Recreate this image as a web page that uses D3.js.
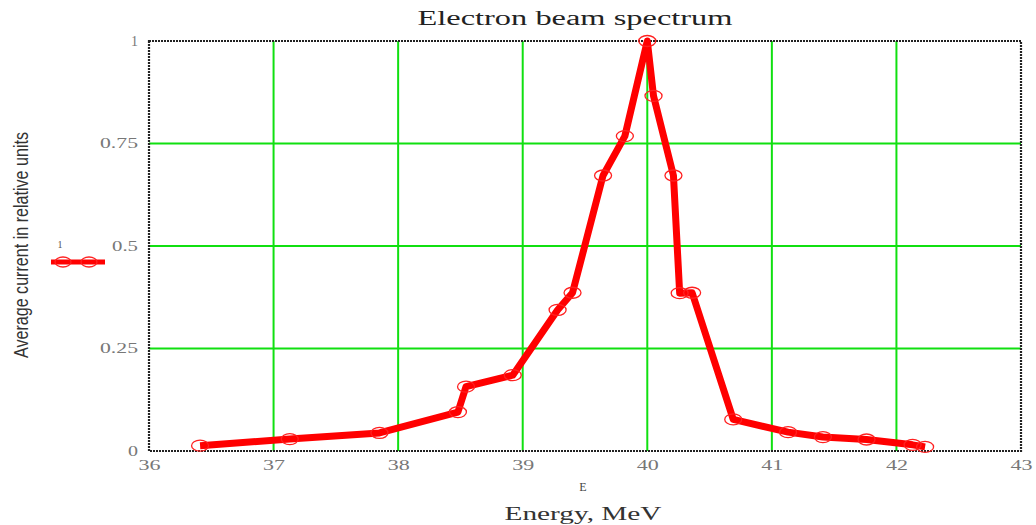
<!DOCTYPE html>
<html><head><meta charset="utf-8">
<script src="https://cdn.jsdelivr.net/npm/d3@7"></script>
<style>body{margin:0;background:#fff;} svg{display:block;}</style>
</head><body>
<svg id="c" width="1036" height="525"></svg>
<script>
const energy = [36.41, 37.13, 37.85, 38.48, 38.545, 38.92, 39.28, 39.40, 39.645, 39.82, 40.0, 40.05, 40.21, 40.26, 40.36, 40.69, 41.13, 41.41, 41.76, 42.13, 42.23];
const current = [0.013, 0.029, 0.044, 0.095, 0.157, 0.185, 0.344, 0.386, 0.672, 0.768, 1.0, 0.866, 0.672, 0.385, 0.386, 0.077, 0.046, 0.034, 0.028, 0.015, 0.01];
const xTicks = [36, 37, 38, 39, 40, 41, 42, 43];
const xTickLabels = ["36", "37", "38", "39", "40", "41", "42", "43"];
const yTicks = [0, 0.25, 0.5, 0.75, 1];
const yTickLabels = ["0", "0.25", "0.5", "0.75", "1"];

const svg = d3.select("#c");
const L = 149, R = 1021, T = 41, B = 451;
const x = d3.scaleLinear().domain([36, 43]).range([L, R]);
const y = d3.scaleLinear().domain([0, 1]).range([B, T]);
const serif = "'Liberation Serif','DejaVu Serif',serif";
const green = "#10e010";

// grid
svg.append("g").selectAll("line").data(xTicks.filter(d => d > 36 && d < 43)).join("line")
  .attr("x1", d => x(d)).attr("x2", d => x(d)).attr("y1", T).attr("y2", B)
  .attr("stroke", green).attr("stroke-width", 2);
svg.append("g").selectAll("line").data(yTicks.filter(d => d > 0 && d < 1)).join("line")
  .attr("x1", L).attr("x2", R).attr("y1", d => y(d)).attr("y2", d => y(d))
  .attr("stroke", green).attr("stroke-width", 2);

// axes with library (labels)
const xAxis = d3.axisBottom(x).tickValues(xTicks).tickFormat((d, i) => xTickLabels[i]).tickSize(0).tickPadding(9);
const gx = svg.append("g").attr("transform", `translate(0,${B})`).call(xAxis);
gx.select(".domain").remove();
gx.selectAll("text").attr("font-family", serif).attr("font-size", 14).attr("fill", "#777")
  .attr("textLength", 22).attr("lengthAdjust", "spacingAndGlyphs");

const yAxis = d3.axisLeft(y).tickValues(yTicks).tickFormat((d, i) => yTickLabels[i]).tickSize(0).tickPadding(11);
const gy = svg.append("g").attr("transform", `translate(${L},0)`).call(yAxis);
gy.select(".domain").remove();
const yLen = {"0": 10, "0.25": 38, "0.5": 26, "0.75": 38, "1": 7};
gy.selectAll("text").attr("font-family", serif).attr("font-size", 14).attr("fill", "#777")
  .attr("textLength", function() { return yLen[this.textContent]; }).attr("lengthAdjust", "spacingAndGlyphs");

// border
svg.append("rect").attr("x", L).attr("y", T).attr("width", R - L).attr("height", B - T)
  .attr("fill", "none").attr("stroke", "#222").attr("stroke-width", 2.2).attr("stroke-dasharray", "2,1");

// line
const line = d3.line().x((d, i) => x(energy[i])).y(d => y(d));
svg.append("path").datum(current).attr("d", line).attr("fill", "none")
  .attr("stroke", "#ff0000").attr("stroke-width", 7).attr("stroke-linejoin", "round");

// markers
svg.append("g").selectAll("ellipse").data(current).join("ellipse")
  .attr("cx", (d, i) => x(energy[i])).attr("cy", d => y(d))
  .attr("rx", 8.5).attr("ry", 5.5).attr("fill", "none").attr("stroke", "#ff2020").attr("stroke-width", 1.3);

// legend
const lg = svg.append("g");
lg.append("line").attr("x1", 51).attr("x2", 105).attr("y1", 262).attr("y2", 262)
  .attr("stroke", "#ff0000").attr("stroke-width", 5);
lg.selectAll("ellipse").data([63, 89]).join("ellipse")
  .attr("cx", d => d).attr("cy", 262).attr("rx", 8).attr("ry", 5)
  .attr("fill", "none").attr("stroke", "#ff2020").attr("stroke-width", 1.3);
lg.append("text").attr("x", 60).attr("y", 248).attr("font-family", serif).attr("font-size", 10)
  .attr("fill", "#555").attr("text-anchor", "middle").text("1");

// titles
svg.append("text").attr("x", 575).attr("y", 25).attr("text-anchor", "middle")
  .attr("font-family", serif).attr("font-size", 20).attr("fill", "#222")
  .attr("textLength", 315).attr("lengthAdjust", "spacingAndGlyphs").text("Electron beam spectrum");
svg.append("text").attr("x", 583).attr("y", 491).attr("text-anchor", "middle")
  .attr("font-family", serif).attr("font-size", 12).attr("fill", "#444").text("E");
svg.append("text").attr("x", 583).attr("y", 520).attr("text-anchor", "middle")
  .attr("font-family", serif).attr("font-size", 19).attr("fill", "#333")
  .attr("textLength", 157).attr("lengthAdjust", "spacingAndGlyphs").text("Energy, MeV");
svg.append("text").attr("transform", "translate(28,245) rotate(-90)").attr("text-anchor", "middle")
  .attr("font-family", "'Liberation Sans','DejaVu Sans',sans-serif").attr("font-size", 20).attr("fill", "#333")
  .attr("textLength", 226).attr("lengthAdjust", "spacingAndGlyphs").text("Average current in relative units");
</script>
</body></html>
